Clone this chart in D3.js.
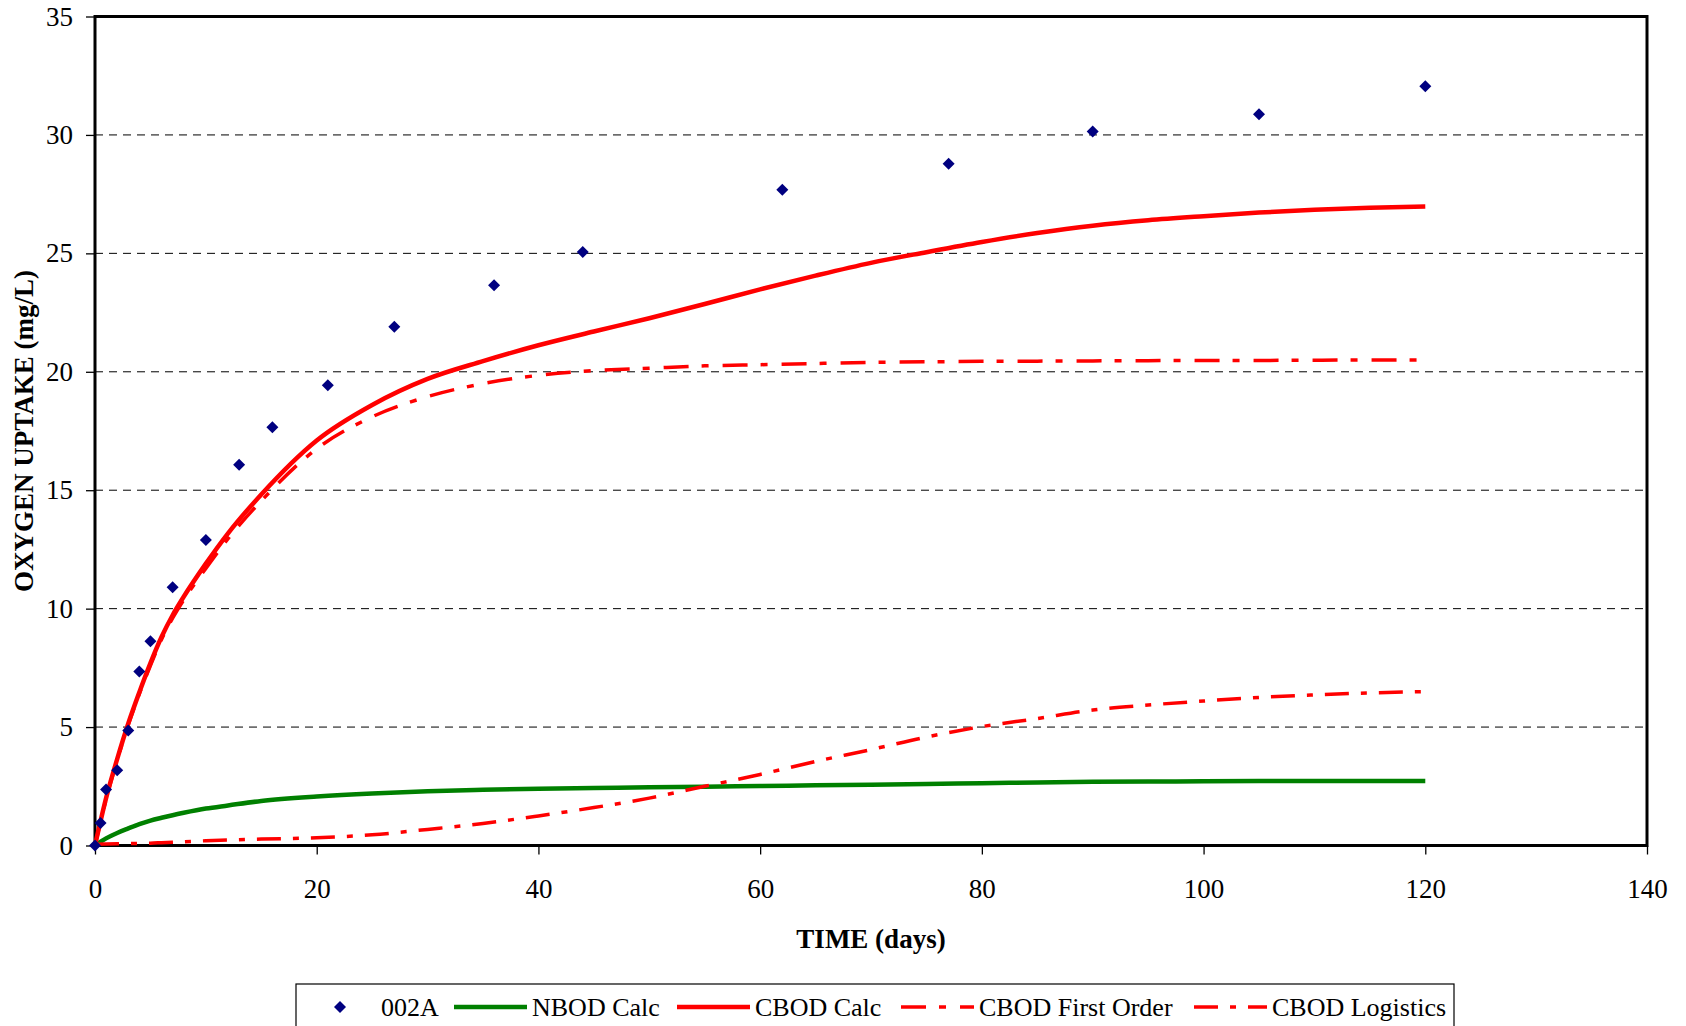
<!doctype html>
<html lang="en">
  <head>
    <meta charset="utf-8">
    <title>Oxygen uptake</title>
    <style>
      body { margin: 0; background: #fff; }
      svg { display: block; font-family: "Liberation Serif", "Times New Roman", serif; }
    </style>
  </head>
  <body>
    <script src="https://cdn.jsdelivr.net/npm/d3@7"></script>
    <script>

      // measured points (002A)
      var obsDays = [0, 0.5, 1, 2, 3, 4, 5, 7, 10, 13, 16, 21, 27, 36, 44, 62, 77, 90, 105, 120];
      var obsUptake = [0, 0.95, 2.36, 3.18, 4.86, 7.35, 8.62, 10.9, 12.9, 16.07, 17.66, 19.43, 21.9, 23.65, 25.06, 27.69, 28.78, 30.14, 30.87, 32.05];

      // model curves
      var calcDays  = [0, 1, 2, 3, 4, 5, 6, 7, 8, 10, 12, 15, 20, 25, 30, 35, 40, 45, 50, 55, 60, 65, 70, 75, 80, 85, 90, 95, 100, 105, 110, 115, 120];
      var nbodCalc  = [0, 0.3, 0.53, 0.72, 0.9, 1.05, 1.17, 1.28, 1.38, 1.56, 1.69, 1.88, 2.07, 2.2, 2.29, 2.35, 2.4, 2.43, 2.46, 2.48, 2.51, 2.54, 2.57, 2.6, 2.63, 2.66, 2.69, 2.7, 2.71, 2.72, 2.72, 2.72, 2.72];
      var cbodCalc  = [0, 2.0, 3.65, 5.15, 6.47, 7.7, 8.8, 9.72, 10.5, 11.9, 13.18, 14.82, 17.1, 18.6, 19.7, 20.45, 21.12, 21.7, 22.26, 22.86, 23.48, 24.06, 24.6, 25.05, 25.48, 25.86, 26.17, 26.4, 26.57, 26.72, 26.84, 26.93, 26.98];
      var cbodFirst = [0, 1.95, 3.6, 5.1, 6.4, 7.6, 8.7, 9.6, 10.37, 11.7, 12.95, 14.55, 16.75, 18.1, 18.95, 19.5, 19.85, 20.05, 20.15, 20.25, 20.3, 20.35, 20.4, 20.42, 20.44, 20.45, 20.46, 20.47, 20.48, 20.48, 20.49, 20.5, 20.5];
      var cbodLogis = [0.05, 0.06, 0.07, 0.08, 0.09, 0.1, 0.12, 0.14, 0.16, 0.2, 0.23, 0.27, 0.33, 0.45, 0.68, 0.93, 1.25, 1.6, 2.0, 2.5, 3.0, 3.55, 4.05, 4.58, 5.02, 5.36, 5.72, 5.93, 6.1, 6.25, 6.36, 6.44, 6.5];

      var xTicks = [0, 20, 40, 60, 80, 100, 120, 140];
      var yTicks = [0, 5, 10, 15, 20, 25, 30, 35];

      var series = [
        {name: "NBOD Calc",        values: nbodCalc,  color: "#008000", width: 4.5, dash: null},
        {name: "CBOD Calc",        values: cbodCalc,  color: "#ff0000", width: 4.5, dash: null},
        {name: "CBOD First Order", values: cbodFirst, color: "#ff0000", width: 3.5, dash: "25,13,7,14"},
        {name: "CBOD Logistics",   values: cbodLogis, color: "#ff0000", width: 3.5, dash: "24,12,6,12"}
      ];

      var margin = {top: 16.5, right: 39, bottom: 180.5, left: 95},
          width  = 1686 - margin.left - margin.right,
          height = 1026 - margin.top - margin.bottom;

      var svg = d3.select("body")
        .append("svg")
        .attr("width", 1686)
        .attr("height", 1026);

      var chart = svg.append("g")
        .attr("transform", "translate(" + margin.left + "," + margin.top + ")");

      var x = d3.scaleLinear().domain([0, 140]).range([0, width]);
      var y = d3.scaleLinear().domain([0, 35]).range([height, 0]);

      // dashed grid
      chart.selectAll(".grid")
        .data(yTicks.filter(function(d){ return d > 0 && d < 35; }))
        .enter()
        .append("line")
        .attr("x1", 0)
        .attr("x2", width)
        .attr("y1", function(d){ return y(d); })
        .attr("y2", function(d){ return y(d); })
        .attr("stroke", "#000")
        .attr("stroke-width", 1)
        .attr("stroke-dasharray", "8,6");

      var xAxis = chart.append("g")
        .attr("transform", "translate(0," + height + ")")
        .call(d3.axisBottom(x).tickValues(xTicks).tickSize(9).tickPadding(24).tickFormat(d3.format("d")));

      var yAxis = chart.append("g")
        .call(d3.axisLeft(y).tickValues(yTicks).tickSize(9).tickPadding(13).tickFormat(d3.format("d")));

      [xAxis, yAxis].forEach(function(a){
        a.select(".domain").remove();
        a.selectAll("line").attr("stroke", "#000").attr("stroke-width", 1.3);
        a.selectAll("text")
          .attr("fill", "#000")
          .style("font-family", "'Liberation Serif', serif")
          .style("font-size", "27px");
      });

      // plot frame
      chart.append("rect")
        .attr("width", width)
        .attr("height", height)
        .attr("fill", "none")
        .attr("stroke", "#000")
        .attr("stroke-width", 3);

      var line = d3.line()
        .x(function(d){ return x(d[0]); })
        .y(function(d){ return y(d[1]); })
        .curve(d3.curveMonotoneX);

      series.forEach(function(s){
        chart.append("path")
          .datum(calcDays.map(function(t, i){ return [t, s.values[i]]; }))
          .attr("d", line)
          .attr("fill", "none")
          .attr("stroke", s.color)
          .attr("stroke-width", s.width)
          .attr("stroke-dasharray", s.dash);
      });

      var diamond = d3.symbol().type(d3.symbolSquare).size(72);

      chart.selectAll(".pt")
        .data(obsDays.map(function(t, i){ return [t, obsUptake[i]]; }))
        .enter()
        .append("path")
        .attr("d", diamond)
        .attr("transform", function(d){ return "translate(" + x(d[0]) + "," + y(d[1]) + ") rotate(45)"; })
        .attr("fill", "#000080");

      // axis titles
      svg.append("text")
        .attr("x", margin.left + width / 2)
        .attr("y", 948)
        .attr("text-anchor", "middle")
        .style("font-size", "27px")
        .style("font-weight", "bold")
        .text("TIME (days)");

      svg.append("text")
        .attr("transform", "translate(33," + (margin.top + height / 2) + ") rotate(-90)")
        .attr("text-anchor", "middle")
        .style("font-size", "27px")
        .style("font-weight", "bold")
        .text("OXYGEN UPTAKE (mg/L)");

      // legend
      var legend = svg.append("g");
      legend.append("rect")
        .attr("x", 296)
        .attr("y", 984)
        .attr("width", 1158)
        .attr("height", 60)
        .attr("fill", "#fff")
        .attr("stroke", "#000")
        .attr("stroke-width", 1.2);

      legend.append("path")
        .attr("d", diamond)
        .attr("transform", "translate(340,1007) rotate(45)")
        .attr("fill", "#000080");
      legend.append("text")
        .attr("x", 381).attr("y", 1016)
        .style("font-size", "26px")
        .text("002A");

      var legendX = [454, 677, 901, 1194];
      series.forEach(function(s, i){
        legend.append("line")
          .attr("x1", legendX[i])
          .attr("x2", legendX[i] + 73)
          .attr("y1", 1007)
          .attr("y2", 1007)
          .attr("stroke", s.color)
          .attr("stroke-width", s.width)
          .attr("stroke-dasharray", s.dash);
        legend.append("text")
          .attr("x", legendX[i] + 78)
          .attr("y", 1016)
          .style("font-size", "26px")
          .text(s.name);
      });

    </script>
  </body>
</html>
